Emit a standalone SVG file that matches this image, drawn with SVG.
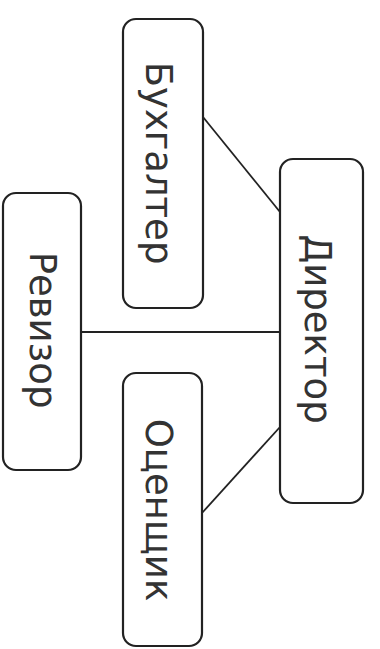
<svg xmlns="http://www.w3.org/2000/svg" width="380" height="649" viewBox="0 0 380 649">
<style>
.box{fill:#fff;stroke:#222;stroke-width:2.2}
.lbl{font-family:"DejaVu Sans","Liberation Sans",sans-serif;font-size:37px;fill:#333;text-anchor:middle;dominant-baseline:central}
.con{stroke:#222;stroke-width:1.8;fill:none}
</style>
<rect width="380" height="649" fill="#fff"/>
<g id="connectors">
<line class="con" x1="203" y1="117" x2="280" y2="212"/>
<line class="con" x1="81" y1="332" x2="280" y2="332"/>
<line class="con" x1="202" y1="513" x2="280" y2="427"/>
</g>
<g id="buhgalter">
<rect class="box" x="123" y="19" width="80" height="289" rx="13"/>
<text class="lbl" transform="translate(158,163) rotate(90)">Бухгалтер</text>
</g>
<g id="direktor">
<rect class="box" x="280" y="159" width="83" height="344" rx="13"/>
<text class="lbl" transform="translate(317,329) rotate(90)">Директор</text>
</g>
<g id="revizor">
<rect class="box" x="3" y="193" width="78" height="277" rx="13"/>
<text class="lbl" transform="translate(42,330) rotate(90)">Ревизор</text>
</g>
<g id="ocenshik">
<rect class="box" x="123" y="373" width="79" height="273" rx="13"/>
<text class="lbl" transform="translate(158,510) rotate(90)">Оценщик</text>
</g>
</svg>
